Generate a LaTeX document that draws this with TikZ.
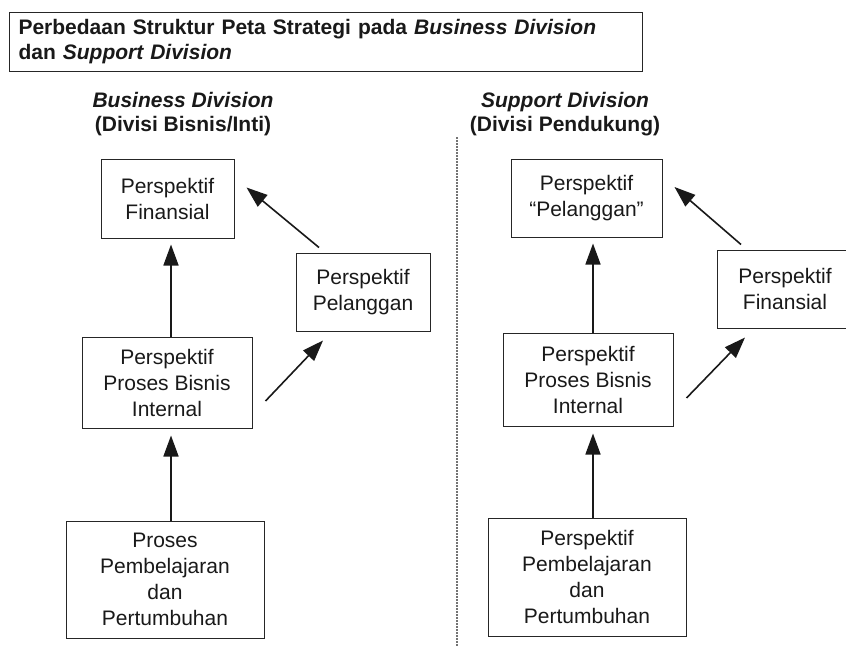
\documentclass[tikz,border=0pt]{standalone}
\usepackage{fontspec}
\setmainfont{Liberation Sans}
\usetikzlibrary{arrows.meta,calc,positioning}

\begin{document}
\begin{tikzpicture}[x=1pt, y=-1pt,
    box/.style={draw=black!85, line width=1pt, align=center, inner sep=0pt, text=black!90,
                font=\fontsize{21}{26}\selectfont},
    head/.style={align=center, text=black!90, font=\fontsize{21}{24}\selectfont\bfseries},
    arr/.style={line width=1.6pt, draw=black!90, -{Triangle[length=21pt,width=15pt]}},
    divider/.style={line width=1.3pt, draw=black!55, dash pattern=on 1.5pt off 1.5pt}]

    \useasboundingbox (0,0) rectangle (846,646);
    \clip (0,0) rectangle (846,646);

    % Title
    \node[draw=black!85, line width=1pt, anchor=north west, text width=615pt, inner xsep=9pt,
          minimum height=59pt, align=left, text=black!90, font=\fontsize{21}{25}\selectfont\bfseries]
          (title) at (9,12) {Perbedaan Struktur Peta Strategi pada \textit{Business Division}\\dan \textit{Support Division}};

    % Headings
    \node[head] (l-head) at (183,114) {\textit{Business Division}\\(Divisi Bisnis/Inti)};
    \node[head] (r-head) at (565,114) {\textit{Support Division}\\(Divisi Pendukung)};

    % Divider
    \coordinate (div-top) at (457,137);
    \coordinate (div-bot) at (457,646);
    \draw[divider] (div-top) -- (div-bot);

    % Business Division
    \node[box, minimum width=133pt, minimum height=79pt] (l-top) at (167.5,198.5) {Perspektif\\Finansial};
    \node[box, minimum width=134pt, minimum height=78pt] (l-side) at (363,292) {Perspektif\\Pelanggan};
    \node[box, minimum width=170pt, minimum height=91pt] (l-mid) at (167,382.5) {Perspektif\\Proses Bisnis\\Internal};
    \node[box, minimum width=198pt, minimum height=117pt] (l-bot) at (165,579.5) {Proses\\Pembelajaran\\dan\\Pertumbuhan};

    % Support Division
    \node[box, minimum width=151pt, minimum height=78pt] (r-top) at (586.5,198) {Perspektif\\``Pelanggan''};
    \node[box, minimum width=136pt, minimum height=78pt] (r-side) at (785,289) {Perspektif\\Finansial};
    \node[box, minimum width=170pt, minimum height=93pt] (r-mid) at (588,379.5) {Perspektif\\Proses Bisnis\\Internal};
    \node[box, minimum width=198pt, minimum height=118pt] (r-bot) at (587,577) {Perspektif\\Pembelajaran\\dan\\Pertumbuhan};

    % Arrows
    \foreach \c/\dx in {l/4, r/5} {
        \coordinate (\c-ax) at ($(\c-mid.north)+(\dx,0)$);
        \draw[arr] (\c-ax |- \c-bot.north) -- ($(\c-ax |- \c-mid.south)+(0,7)$);
        \draw[arr] (\c-ax) -- ($(\c-ax |- \c-top.south)+(0,6)$);
        \draw[arr] ($(\c-mid.east)+(13,18.5)$) -- ($(\c-side.south)+(-40,9)$);
        \draw[arr] ($(\c-side.north)+(-44,-5)$) -- ($(\c-top.east)+(12,-11)$);
    }
\end{tikzpicture}
\end{document}
